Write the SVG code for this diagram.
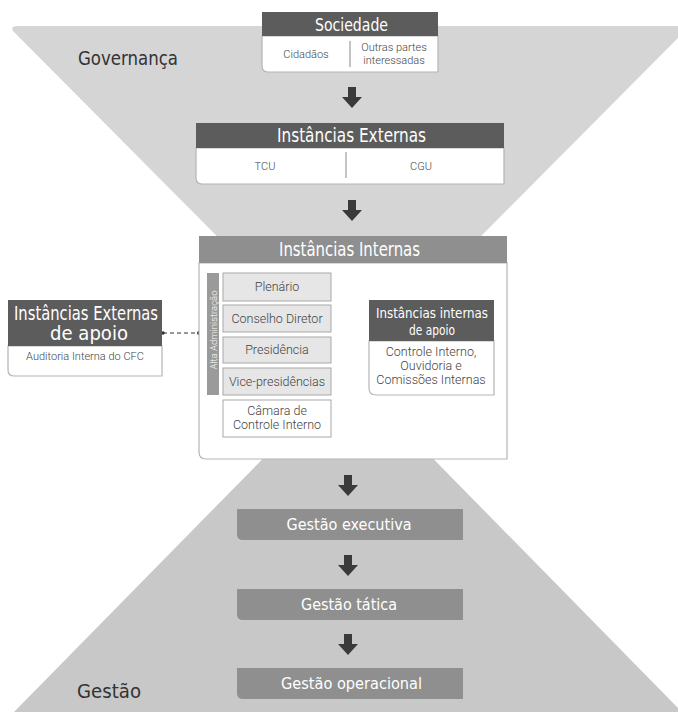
<svg xmlns="http://www.w3.org/2000/svg" width="678" height="713" viewBox="0 0 678 713">
<defs>
<style>
.bgt{fill:#d5d5d5}
.bgb{fill:#c8c8c8}
.hd{fill:#5c5c5c}
.hl{fill:#8f8f8f}
.body{fill:#fff;stroke:#b5b5b5;stroke-width:1.2}
.item{fill:#e6e6e6;stroke:#a8a8a8;stroke-width:1}
.itemw{fill:#fff;stroke:#a8a8a8;stroke-width:1}
.arr{fill:#3a3a3a}
.tt{font-family:'Liberation Sans Narrow','DejaVu Sans Condensed','Liberation Sans',sans-serif;fill:#fff;text-anchor:middle}
.lb{font-family:'Liberation Sans Narrow','DejaVu Sans Condensed','Liberation Sans',sans-serif;fill:#333;font-size:20px}
.sm{font-family:Roboto,'Liberation Sans',sans-serif;font-weight:300;fill:#444;text-anchor:middle;font-size:11px}
.md{font-family:Roboto,'Liberation Sans',sans-serif;font-weight:300;fill:#444;text-anchor:middle;font-size:12.5px}
.div{stroke:#888;stroke-width:1}
</style>
<path id="dn" d="M-4,0 H4 V10 H10 L0,21 L-10,10 H-4 Z"/>
</defs>
<g id="background">
<path class="bgt" d="M18,26 H690 L349,369 L13,31 Q10,26 18,26 Z"/>
<path class="bgb" d="M14,712 H682 L348,372 Z"/>
<text class="lb" x="78" y="65" textLength="100" lengthAdjust="spacingAndGlyphs">Governança</text>
<text class="lb" x="77" y="698" textLength="64" lengthAdjust="spacingAndGlyphs">Gestão</text>
</g>
<g id="connectors">
<use href="#dn" class="arr" x="352" y="87"/>
<use href="#dn" class="arr" x="352" y="200"/>
<use href="#dn" class="arr" x="348" y="475"/>
<use href="#dn" class="arr" x="348" y="555"/>
<use href="#dn" class="arr" x="348" y="634"/>
<path class="arr" d="M336,353 L347,340 V347 H353 V340 L364,353 L353,366 V359 H347 V366 Z"/>
<line x1="163" y1="333" x2="199" y2="333" stroke="#333" stroke-width="1.2" stroke-dasharray="4,3"/>
<circle cx="163" cy="333" r="1.8" fill="#333"/>
<circle cx="199" cy="333" r="2" fill="#333"/>
</g>
<g id="sociedade">
<path class="body" d="M262,36 H438 V72 H268 Q262,72 262,66 Z"/>
<rect class="hd" x="262" y="12" width="176" height="24"/>
<text class="tt" x="351.5" y="31" font-size="18" textLength="73" lengthAdjust="spacingAndGlyphs">Sociedade</text>
<line class="div" x1="350" y1="41" x2="350" y2="67"/>
<text class="sm" x="306" y="58">Cidadãos</text>
<text class="sm" x="394" y="51">Outras partes</text>
<text class="sm" x="394" y="64">interessadas</text>
</g>
<g id="instancias-externas">
<path class="body" d="M196,148 H504 V184 H202 Q196,184 196,178 Z"/>
<rect class="hd" x="196" y="123" width="308" height="25"/>
<text class="tt" x="351.5" y="142" font-size="19" textLength="149" lengthAdjust="spacingAndGlyphs">Instâncias Externas</text>
<line class="div" x1="346" y1="152" x2="346" y2="178"/>
<text class="sm" x="265" y="170">TCU</text>
<text class="sm" x="421" y="170">CGU</text>
</g>
<g id="instancias-internas">
<path class="body" d="M199,263 H507 V459 H206 Q199,459 199,452 Z"/>
<rect class="hl" x="199" y="236" width="308" height="27"/>
<text class="tt" x="349.5" y="256" font-size="19" textLength="141" lengthAdjust="spacingAndGlyphs">Instâncias Internas</text>
</g>
<g id="alta-administracao">
<rect x="207" y="273" width="12" height="122" fill="#9a9a9a"/>
<text transform="translate(216.5,330) rotate(-90)" text-anchor="middle" font-family="Roboto,'Liberation Sans',sans-serif" font-weight="300" font-size="9.5" fill="#fff">Alta  Administração</text>
</g>
<g id="plenario">
<rect class="item" x="223" y="273" width="108" height="28"/>
<text class="md" x="277" y="291">Plenário</text>
</g>
<g id="conselho-diretor">
<rect class="item" x="223" y="305" width="108" height="27"/>
<text class="md" x="277" y="323">Conselho Diretor</text>
</g>
<g id="presidencia">
<rect class="item" x="223" y="337" width="108" height="26"/>
<text class="md" x="277" y="354">Presidência</text>
</g>
<g id="vice-presidencias">
<rect class="item" x="223" y="368" width="108" height="27"/>
<text class="md" x="277" y="386">Vice-presidências</text>
</g>
<g id="camara-controle-interno">
<rect class="itemw" x="223" y="400" width="108" height="37"/>
<text class="md" x="277" y="415">Câmara de</text>
<text class="md" x="277" y="429">Controle Interno</text>
</g>
<g id="instancias-internas-apoio">
<path class="body" d="M369,341 H494 V395 H376 Q369,395 369,388 Z"/>
<rect class="hd" x="369" y="300" width="125" height="41"/>
<text class="tt" x="432" y="318" font-size="14.5" textLength="112" lengthAdjust="spacingAndGlyphs">Instâncias internas</text>
<text class="tt" x="432" y="335" font-size="14.5" textLength="46" lengthAdjust="spacingAndGlyphs">de apoio</text>
<text class="md" x="431" y="356" font-size="10.5">Controle Interno,</text>
<text class="md" x="431" y="370" font-size="10.5">Ouvidoria e</text>
<text class="md" x="431" y="384" font-size="10.5">Comissões Internas</text>
</g>
<g id="instancias-externas-apoio">
<path class="body" d="M8,346 H162 V376 H14 Q8,376 8,370 Z"/>
<rect class="hd" x="8" y="300" width="154" height="46"/>
<text class="tt" x="86" y="320" font-size="19" textLength="144" lengthAdjust="spacingAndGlyphs">Instâncias Externas</text>
<text class="tt" x="89" y="340" font-size="19" textLength="78" lengthAdjust="spacingAndGlyphs">de apoio</text>
<text class="sm" x="85" y="360">Auditoria Interna do CFC</text>
</g>
<g id="gestao-executiva">
<path class="hl" d="M237,509 H463 V540 H243 Q237,540 237,534 Z"/>
<text class="tt" x="349" y="530" font-size="16" textLength="125" lengthAdjust="spacingAndGlyphs">Gestão executiva</text>
</g>
<g id="gestao-tatica">
<path class="hl" d="M237,589 H463 V620 H243 Q237,620 237,614 Z"/>
<text class="tt" x="349" y="610" font-size="16" textLength="96" lengthAdjust="spacingAndGlyphs">Gestão tática</text>
</g>
<g id="gestao-operacional">
<path class="hl" d="M237,668 H463 V699 H243 Q237,699 237,693 Z"/>
<text class="tt" x="351.5" y="689" font-size="16" textLength="141" lengthAdjust="spacingAndGlyphs">Gestão operacional</text>
</g>
</svg>
